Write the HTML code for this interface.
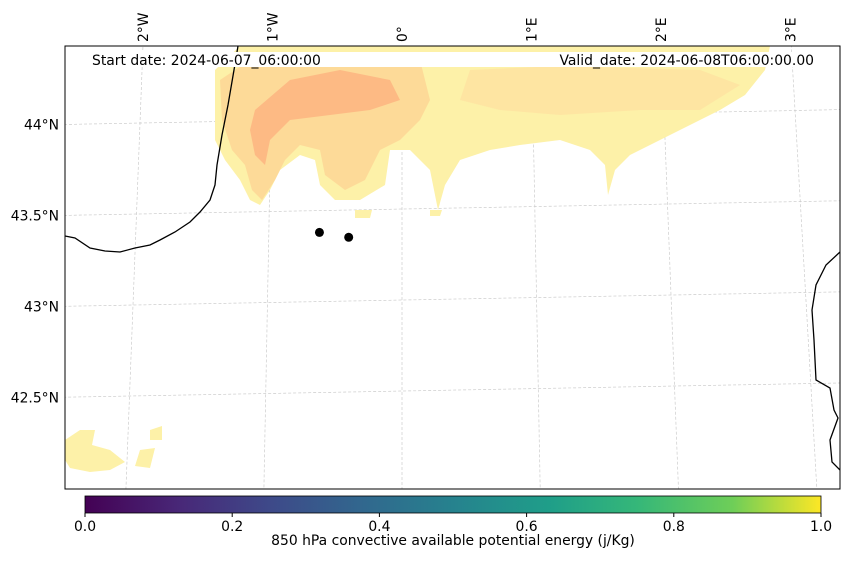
<!DOCTYPE html>
<html><head><meta charset="utf-8"><style>
body{margin:0;background:#fff;width:850px;height:558px;overflow:hidden;font-family:"DejaVu Sans",sans-serif}
text{font-family:"DejaVu Sans",sans-serif;font-size:13.9px;fill:#000}
</style></head><body>
<svg id="chart" width="850" height="558" viewBox="0 0 850 558">
<defs>
<linearGradient id="vir" x1="0" x2="1" y1="0" y2="0">
<stop offset="0" stop-color="#440154"/><stop offset="0.13" stop-color="#482878"/><stop offset="0.25" stop-color="#3e4989"/><stop offset="0.38" stop-color="#31688e"/><stop offset="0.5" stop-color="#26828e"/><stop offset="0.63" stop-color="#1f9e89"/><stop offset="0.75" stop-color="#35b779"/><stop offset="0.88" stop-color="#6ece58"/><stop offset="1" stop-color="#fde725"/>
</linearGradient>
<clipPath id="clip"><rect x="65" y="46" width="775" height="443"/></clipPath>
</defs>
<g id="grid" clip-path="url(#clip)"></g>
<g clip-path="url(#clip)">
<path fill="#fdf1a8" d="M215,70 L240,46 L770,46 L765,70 L745,95 L720,110 L690,125 L660,140 L630,155 L615,170 L608,195 L605,165 L590,150 L560,140 L520,145 L490,150 L460,160 L445,185 L438,210 L430,170 L410,150 L390,150 L385,185 L360,200 L335,200 L320,185 L315,160 L300,155 L280,170 L270,190 L260,205 L250,200 L240,180 L225,160 L215,140 Z"/>
<path fill="#fdd695" opacity="0.85" d="M220,80 L250,60 L420,60 L430,100 L420,120 L400,140 L380,150 L365,180 L345,190 L325,175 L320,150 L300,145 L285,160 L275,180 L262,200 L252,190 L245,165 L232,150 L222,120 Z"/>
<path fill="#fdb27f" opacity="0.8" d="M255,110 L290,80 L340,70 L390,80 L400,100 L370,110 L330,115 L290,120 L270,140 L265,165 L255,155 L250,130 Z"/>
<path fill="#fde0a0" opacity="0.7" d="M470,70 L560,66 L700,70 L740,85 L700,110 L640,110 L560,115 L500,110 L460,100 Z"/>
<path fill="#fdf1a8" d="M65,440 L80,430 L95,430 L92,445 L110,450 L125,462 L110,470 L90,472 L70,468 L65,460 Z M140,450 L155,448 L150,468 L135,466 Z M150,430 L162,426 L162,440 L150,440 Z M355,210 L372,210 L370,218 L355,218 Z M430,210 L442,210 L440,216 L430,216 Z"/>
<path fill="none" stroke="#000" stroke-width="1.3" d="M238,46 L234,70 L228,105 L222,135 L217,165 L215,185 L210,200 L200,212 L190,222 L175,232 L160,240 L150,245 L135,248 L120,252 L105,251 L90,248 L75,238 L65,236"/>
<path fill="none" stroke="#000" stroke-width="1.3" d="M840,252 L826,265 L816,285 L812,310 L814,340 L816,380 L830,388 L834,410 L838,418 L830,440 L832,462 L840,470"/>
</g>
<g id="dots"></g>
<rect x="85" y="52" width="735" height="15" fill="#fff"/>
<text x="92" y="65">Start date: 2024-06-07_06:00:00</text>
<text x="814" y="65" text-anchor="end">Valid_date: 2024-06-08T06:00:00.00</text>
<rect x="65" y="46" width="775" height="443" fill="none" stroke="#000" stroke-width="1"/>
<g id="lonlabels"></g>
<g id="latlabels"></g>
<rect x="85" y="496" width="736" height="17" fill="url(#vir)" stroke="#000" stroke-width="0.8"/>
<g id="cbticks"></g>
<text x="453" y="545" text-anchor="middle">850 hPa convective available potential energy (j/Kg)</text>
</svg>
<script>
const lonTicks=[-2,-1,0,1,2,3];
const lonLabels=["2°W","1°W","0°","1°E","2°E","3°E"];
const latTicks=[44,43.5,43,42.5];
const latLabels=["44°N","43.5°N","43°N","42.5°N"];
const cbTicks=[0,0.2,0.4,0.6,0.8,1.0];
const cbLabels=["0.0","0.2","0.4","0.6","0.8","1.0"];
const ptLon=[-0.62,-0.4];
const ptLat=[43.38,43.35];
const NS="http://www.w3.org/2000/svg";
function proj(lon,lat){
  const y=118+(44-lat)*182-lon*2.5;
  const x=402+lon*(131+(44-lat)*3.5);
  return [x,y];
}
function el(t,a,p){const e=document.createElementNS(NS,t);for(const k in a)e.setAttribute(k,a[k]);p.appendChild(e);return e;}
const grid=document.getElementById('grid');
lonTicks.forEach(lon=>{
  let d="";for(let lat=44.5;lat>=41.8;lat-=0.1){const [x,y]=proj(lon,lat);d+=(d?"L":"M")+x.toFixed(1)+","+y.toFixed(1);}
  const p=el('path',{d:d,fill:'none',stroke:'#ccc','stroke-width':0.7,'stroke-dasharray':'3,2'},grid);
  
  
});
latTicks.forEach(lat=>{
  let d="";for(let lon=-3;lon<=3.5;lon+=0.1){const [x,y]=proj(lon,lat);d+=(d?"L":"M")+x.toFixed(1)+","+y.toFixed(1);}
  const p=el('path',{d:d,fill:'none',stroke:'#ccc','stroke-width':0.7,'stroke-dasharray':'3,2'},grid);
  
  
});
const ll=document.getElementById('lonlabels');
lonTicks.forEach((lon,i)=>{
  const x=proj(lon,44.43)[0];
  const t=el('text',{x:0,y:0,transform:`translate(${x+5},42) rotate(-90)`},ll);
  t.textContent=lonLabels[i];
  
  
});
const la=document.getElementById('latlabels');
latTicks.forEach((lat,i)=>{
  const y=proj(-2.6,lat)[1];
  const t=el('text',{x:59,y:y+5,'text-anchor':'end'},la);
  t.textContent=latLabels[i];
  
  
});
const dots=document.getElementById('dots');
ptLon.forEach((lon,i)=>{
  const [x,y]=proj(lon,ptLat[i]);
  const c=el('circle',{cx:x,cy:y,r:4.5,fill:'#000'},dots);
  
  
});
const cb=document.getElementById('cbticks');
cbTicks.forEach((v,i)=>{
  const x=85+v*736;
  const l=el('line',{x1:x,x2:x,y1:513,y2:517,stroke:'#000'},cb);
  
  
  const t=el('text',{x:x,y:531,'text-anchor':'middle'},cb);
  t.textContent=cbLabels[i];
  
  
});
</script>
</body></html>
